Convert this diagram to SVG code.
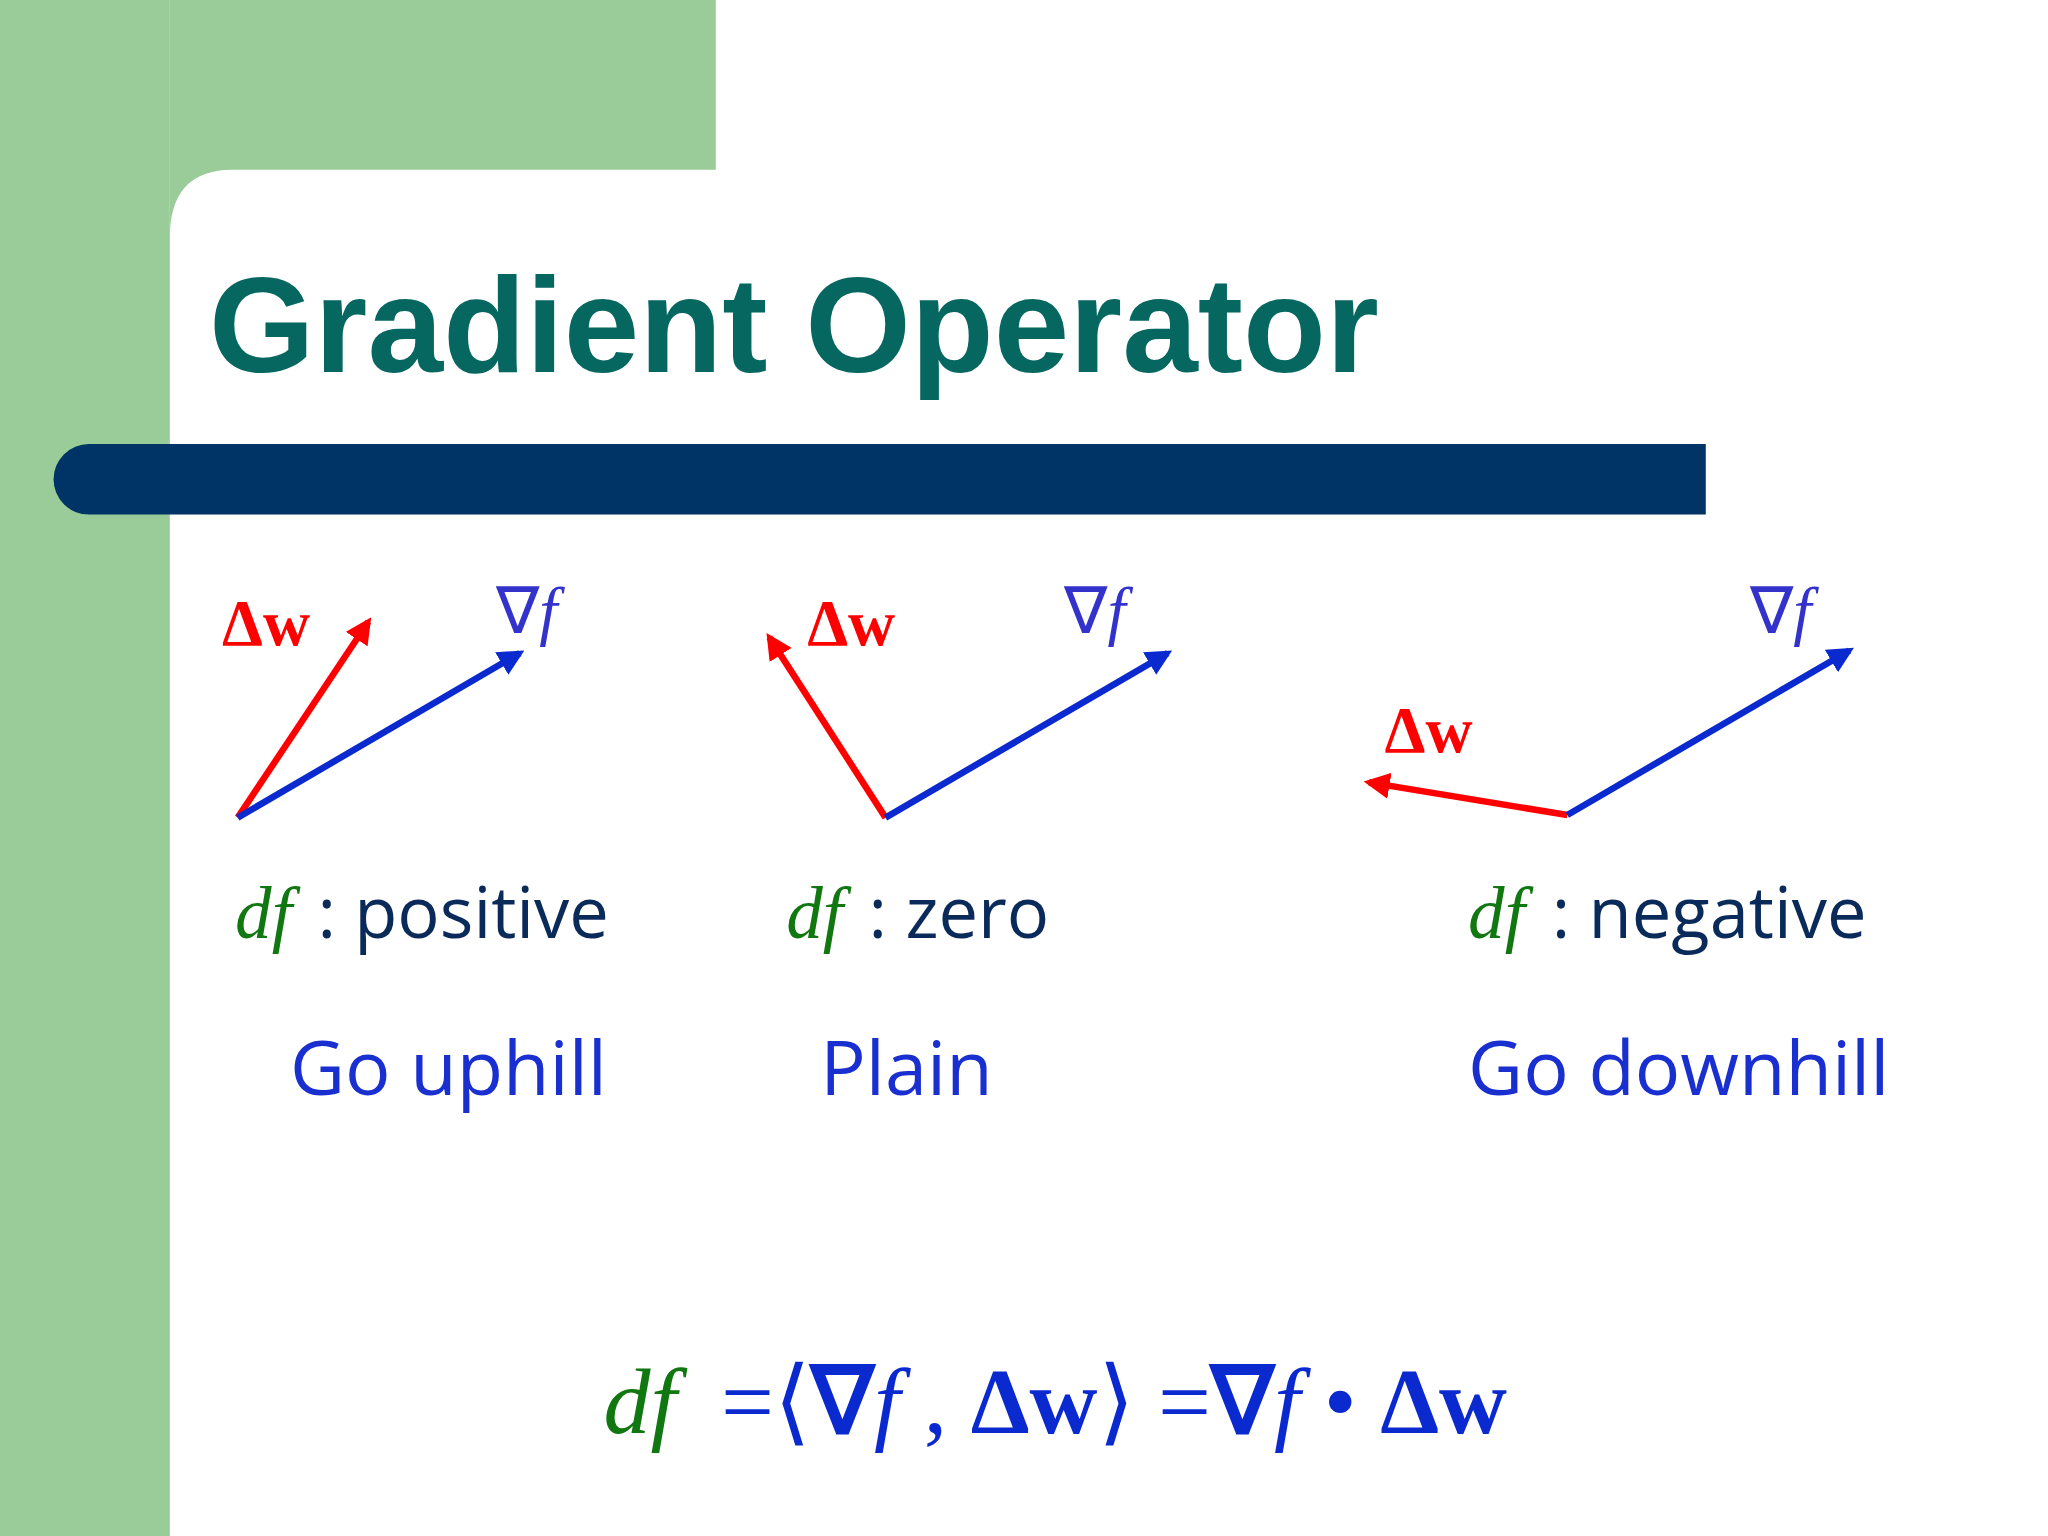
<svg xmlns="http://www.w3.org/2000/svg" width="2048" height="1536" viewBox="0 0 2048 1536">
<defs>
<marker id="ar" viewBox="0 0 10 10" refX="8" refY="5" markerWidth="4" markerHeight="4" orient="auto"><path d="M0,0 L10,5 L0,10 z" fill="#ff0000"/></marker>
<marker id="ab" viewBox="0 0 10 10" refX="8" refY="5" markerWidth="4" markerHeight="4" orient="auto"><path d="M0,0 L10,5 L0,10 z" fill="#0a2ad0"/></marker>
<style>
.r{stroke:#ff0000;stroke-width:5;fill:none}
.b{stroke:#0a2ad0;stroke-width:5;fill:none}
.sym{font-family:"Liberation Serif",serif;font-size:50px}
.dw{fill:#ff0000;font-weight:bold}
.nf{fill:#3333cc}
.df{font-family:"Liberation Serif",serif;font-style:italic;fill:#117711;font-size:56px}
.lab{font-family:"Open Sans",sans-serif;fill:#0a2a5a;font-size:54px}
.go{font-family:"Open Sans",sans-serif;fill:#1a2fd0;font-size:58px}
</style>
</defs>
<rect width="2048" height="1536" fill="#fff"/>
<g transform="scale(1.30612)">
<g id="background">
<rect x="0" y="0" width="130" height="1176" fill="#99cc99"/>
<path d="M130,0 H548 V130 H178 Q130,130 130,182 Z" fill="#99cc99"/>
<path d="M68,340 H1306 V394 H68 A27,27 0 0 1 68,340 Z" fill="#003366"/>
<text x="160" y="285" font-family="Liberation Sans,Arial,sans-serif" font-weight="bold" font-size="104" fill="#05675f">Gradient Operator</text>
</g>
<g id="connectors">
<line class="r" x1="182" y1="626" x2="282" y2="476" marker-end="url(#ar)"/>
<line class="b" x1="182" y1="626" x2="398" y2="500" marker-end="url(#ab)"/>
<line class="r" x1="678" y1="626" x2="589" y2="488" marker-end="url(#ar)"/>
<line class="b" x1="678" y1="626" x2="894" y2="500" marker-end="url(#ab)"/>
<line class="r" x1="1200" y1="624" x2="1048" y2="599" marker-end="url(#ar)"/>
<line class="b" x1="1200" y1="624" x2="1416" y2="498" marker-end="url(#ab)"/>
</g>
<g id="panel1">
<text class="sym dw" x="170" y="494">Δw</text>
<text class="sym nf" x="380" y="485">∇<tspan font-style="italic">f</tspan></text>
<text class="df" x="180" y="718">df</text><text class="lab" x="243" y="718">: positive</text>
<text class="go" x="222" y="838">Go uphill</text>
</g>
<g id="panel2">
<text class="sym dw" x="618" y="494">Δw</text>
<text class="sym nf" x="815" y="485">∇<tspan font-style="italic">f</tspan></text>
<text class="df" x="602" y="718">df</text><text class="lab" x="665" y="718">: zero</text>
<text class="go" x="628" y="838">Plain</text>
</g>
<g id="panel3">
<text class="sym dw" x="1060" y="576">Δw</text>
<text class="sym nf" x="1340" y="485">∇<tspan font-style="italic">f</tspan></text>
<text class="df" x="1124" y="718">df</text><text class="lab" x="1188" y="718">: negative</text>
<text class="go" x="1124" y="838">Go downhill</text>
</g>
<g id="formula" font-family="Liberation Serif,serif" font-size="72">
<text x="462" y="1097" fill="#117711" font-style="italic">df</text>
<text x="552" y="1097" fill="#0a2ad0">=⟨<tspan font-weight="bold">∇</tspan><tspan font-style="italic">f</tspan> , <tspan font-weight="bold">Δw</tspan>⟩ =<tspan font-weight="bold">∇</tspan><tspan font-style="italic">f</tspan> • <tspan font-weight="bold">Δw</tspan></text>
</g>
</g>
</svg>
